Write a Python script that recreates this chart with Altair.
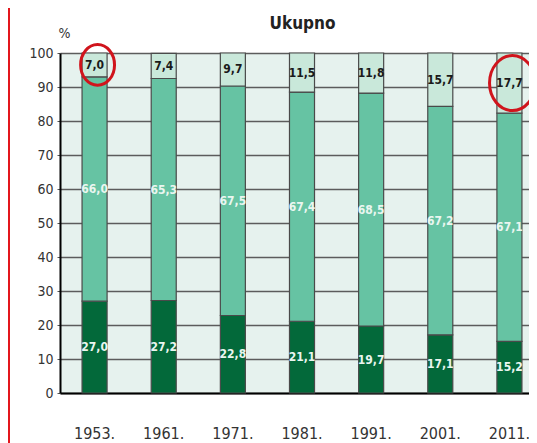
import altair as alt
import pandas as pd

years = ["1953.", "1961.", "1971.", "1981.", "1991.", "2001.", "2011."]
bottom_vals = [27.0, 27.2, 22.8, 21.1, 19.7, 17.1, 15.2]
middle_vals = [66.0, 65.3, 67.5, 67.4, 68.5, 67.2, 67.1]
top_vals = [7.0, 7.4, 9.7, 11.5, 11.8, 15.7, 17.7]
segments = ["bottom", "middle", "top"]
seg_colors = ["#03693a", "#66c3a3", "#c9e8da"]
y_ticks = [0, 10, 20, 30, 40, 50, 60, 70, 80, 90, 100]
circled = ["1953.", "2011."]
circle_sizes = [1150, 2100]

rows = []
for i, yr in enumerate(years):
    for k, (seg, vals) in enumerate(zip(segments, [bottom_vals, middle_vals, top_vals])):
        rows.append({"year": yr, "seg": seg, "order": k, "value": vals[i],
                     "label": f"{vals[i]:.1f}".replace(".", ",")})
df = pd.DataFrame(rows)

circ_df = pd.DataFrame({
    "year": circled,
    "size": circle_sizes,
    "pos": [100 - top_vals[years.index(c)] / 2 for c in circled],
})

FONT = "DejaVu Sans Condensed, Liberation Sans Narrow, Arial Narrow, sans-serif"

xscale = alt.Scale(domain=years, range=[0, 484], paddingInner=0.638, paddingOuter=0.319)
yscale = alt.Scale(domain=[0, 100], nice=False)

xaxis = alt.Axis(title=None, labelAngle=0, ticks=False, labelPadding=32,
                 labelFontSize=16, labelColor="#333", labelFont=FONT,
                 domainColor="#000", domainWidth=2)
yaxis = alt.Axis(values=y_ticks, tickCount=11, title="%", titleAngle=0, titleX=4, titleY=-20,
                 titleAlign="center", titleBaseline="middle", titleFont=FONT,
                 titleFontSize=14, titleFontWeight="normal", titleColor="#333",
                 labelFont=FONT, labelFontSize=14, labelColor="#333",
                 tickSize=3, tickColor="#555", labelPadding=4,
                 domainColor="#000", domainWidth=2,
                 grid=True, gridColor="#5c5c5c", gridWidth=1.5)

bars = alt.Chart(df).mark_bar(stroke="#4a4a4a", strokeWidth=1.2).encode(
    x=alt.X("year:N", sort=years, scale=xscale, axis=xaxis),
    y=alt.Y("value:Q", stack="zero", scale=yscale, axis=yaxis),
    color=alt.Color("seg:N", scale=alt.Scale(domain=segments, range=seg_colors), legend=None),
    order=alt.Order("order:Q"),
)

labels = alt.Chart(df).transform_stack(
    stack="value", as_=["v0", "v1"], groupby=["year"], sort=[alt.SortField("order")]
).transform_calculate(
    mid="(datum.v0 + datum.v1) / 2"
).mark_text(font=FONT, fontSize=12, fontWeight="bold").encode(
    x=alt.X("year:N", sort=years, scale=xscale, axis=xaxis),
    y=alt.Y("mid:Q", scale=yscale, axis=yaxis),
    text="label:N",
    color=alt.condition("datum.seg == 'top'", alt.value("#1a1a1a"), alt.value("#eaf6f0")),
)

circles = alt.Chart(circ_df).mark_point(
    shape="M-1,0A1,1.2,0,1,0,1,0A1,1.2,0,1,0,-1,0Z",
    filled=False, stroke="#d0141c", strokeWidth=3, opacity=1, xOffset=3,
).encode(
    x=alt.X("year:N", sort=years, scale=xscale, axis=xaxis),
    y=alt.Y("pos:Q", scale=yscale, axis=yaxis),
    size=alt.Size("size:Q", scale=None, legend=None),
)

border = alt.Chart(pd.DataFrame({"a": [0]})).mark_rule(color="#e3161c", strokeWidth=2).encode(
    x=alt.value(-51), y=alt.value(-45), y2=alt.value(400)
)

chart = alt.layer(bars, labels, circles, border).properties(
    width=469, height=340,
    title=alt.TitleParams("Ukupno", font=FONT, fontSize=17, fontWeight="bold",
                          anchor="middle", frame="group", offset=0, color="#222",
                          baseline="alphabetic", dx=8, dy=39),
    autosize="none",
    padding={"left": 52, "top": 45, "right": 0, "bottom": 50},
).configure_view(fill="#e6f2ee", stroke=None)

chart.save("out.html", embed_options={"renderer": "svg", "actions": False})
